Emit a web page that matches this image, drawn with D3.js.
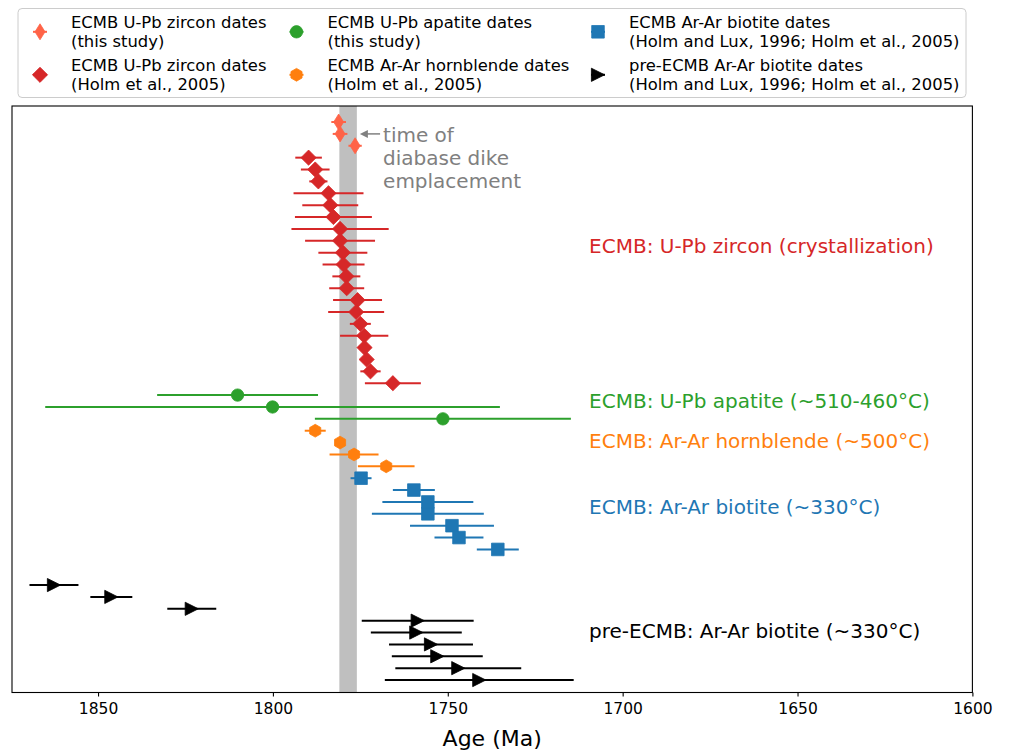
<!DOCTYPE html>
<html>
<head>
<meta charset="utf-8">
<script src="https://cdn.jsdelivr.net/npm/d3@7"></script>
<style>
body { margin: 0; background: #fff; }
text { font-family: "DejaVu Sans", sans-serif; }
</style>
</head>
<body>
<div id="chart"></div>
<script>
// ages (Ma) and half error bars, listed top to bottom
var zirconNewAge = [1781.2, 1780.8, 1776.5];
var zirconNewErr = [2.1, 2.1, 1.9];
var zirconHolmAge = [1789.8, 1787.9, 1787.0, 1784.1, 1783.6, 1782.7, 1780.8, 1780.8, 1780.0, 1779.8,
                     1779.0, 1778.9, 1775.8, 1776.2, 1775.0, 1773.9, 1773.8, 1773.2, 1772.1, 1765.7];
var zirconHolmErr = [3.8, 4.1, 2.6, 10, 8, 11, 13.9, 10, 7, 6,
                     4, 5, 7, 8, 3, 6.9, 1.5, 1.5, 2.9, 8];
var apatiteAge = [1810.1, 1800.1, 1751.4];
var apatiteErr = [23, 65, 36.6];
var hornblendeAge = [1787.9, 1780.8, 1776.8, 1767.6];
var hornblendeErr = [3, 0.8, 7, 8.1];
var biotiteAge = [1774.8, 1759.7, 1755.7, 1755.7, 1748.8, 1746.8, 1735.7];
var biotiteErr = [3, 6, 13, 16, 12, 7, 6];
var preAge = [1862.6, 1846.2, 1823.2, 1758.6, 1759.0, 1754.8, 1753.0, 1747.0, 1741.0];
var preErr = [7, 6, 7, 16, 13, 12, 13, 18, 27];

// empty rows left before each group
var rowGap = [0, 0, 0, 0, 0, 2];

var dikeAge = [1781, 1776];
var xTicks = [1850, 1800, 1750, 1700, 1650, 1600];

var legendText = [
	["ECMB U-Pb zircon dates", "(this study)"],
	["ECMB U-Pb zircon dates", "(Holm et al., 2005)"],
	["ECMB U-Pb apatite dates", "(this study)"],
	["ECMB Ar-Ar hornblende dates", "(Holm et al., 2005)"],
	["ECMB Ar-Ar biotite dates", "(Holm and Lux, 1996; Holm et al., 2005)"],
	["pre-ECMB Ar-Ar biotite dates", "(Holm and Lux, 1996; Holm et al., 2005)"]
];
var groupLabels = [
	"ECMB: U-Pb zircon (crystallization)",
	"ECMB: U-Pb apatite (~510-460°C)",
	"ECMB: Ar-Ar hornblende (~500°C)",
	"ECMB: Ar-Ar biotite (~330°C)",
	"pre-ECMB: Ar-Ar biotite (~330°C)"
];
var annotationLines = ["time of", "diabase dike", "emplacement"];

var series = [
	{ age: zirconNewAge, err: zirconNewErr, color: "#ff6347", shape: "thinDiamond" },
	{ age: zirconHolmAge, err: zirconHolmErr, color: "#d62728", shape: "diamond" },
	{ age: apatiteAge, err: apatiteErr, color: "#2ca02c", shape: "circle" },
	{ age: hornblendeAge, err: hornblendeErr, color: "#ff7f0e", shape: "hexagon" },
	{ age: biotiteAge, err: biotiteErr, color: "#1f77b4", shape: "square" },
	{ age: preAge, err: preErr, color: "#000000", shape: "triangle" }
];

// stack rows
var row = 0;
series.forEach(function(s, i) {
	row += rowGap[i];
	s.points = s.age.map(function(a, j) {
		return { age: a, err: s.err[j], row: row + j };
	});
	row += s.age.length;
});

var width = 1010, height = 752;
var plot = { left: 12, right: 972.4, top: 106, bottom: 692.5 };

var xScale = d3.scaleLinear()
	.domain([1874.6, 1600])
	.range([plot.left, plot.right]);

var yScale = d3.scaleLinear()
	.domain([-1.35, 48.05])
	.range([plot.top, plot.bottom]);

function markerPath(shape) {
	var p = d3.path(), k, a;
	if (shape === "thinDiamond") {
		p.moveTo(0, -8); p.lineTo(5, 0); p.lineTo(0, 8); p.lineTo(-5, 0); p.closePath();
	} else if (shape === "diamond") {
		p.moveTo(0, -7.6); p.lineTo(7.6, 0); p.lineTo(0, 7.6); p.lineTo(-7.6, 0); p.closePath();
	} else if (shape === "circle") {
		p.arc(0, 0, 6.2, 0, 2 * Math.PI);
	} else if (shape === "hexagon") {
		for (k = 0; k < 6; k++) {
			a = Math.PI / 2 + k * Math.PI / 3;
			if (k === 0) p.moveTo(6.4 * Math.cos(a), -6.4 * Math.sin(a));
			else p.lineTo(6.4 * Math.cos(a), -6.4 * Math.sin(a));
		}
		p.closePath();
	} else if (shape === "square") {
		p.rect(-6.3, -6.3, 12.6, 12.6);
	} else if (shape === "triangle") {
		p.moveTo(6.6, 0); p.lineTo(-6.6, -6.6); p.lineTo(-6.6, 6.6); p.closePath();
	}
	return p.toString();
}

var svg = d3.select("#chart").append("svg")
	.attr("width", width)
	.attr("height", height);

// diabase dike band
svg.append("rect")
	.attr("x", xScale(dikeAge[0]))
	.attr("y", plot.top)
	.attr("width", xScale(dikeAge[1]) - xScale(dikeAge[0]))
	.attr("height", plot.bottom - plot.top)
	.attr("fill", "#bfbfbf");

// error bars and markers
series.forEach(function(s) {
	var g = svg.append("g");
	g.selectAll("line")
		.data(s.points)
		.enter().append("line")
		.attr("x1", function(d) { return xScale(d.age + d.err); })
		.attr("x2", function(d) { return xScale(d.age - d.err); })
		.attr("y1", function(d) { return yScale(d.row); })
		.attr("y2", function(d) { return yScale(d.row); })
		.attr("stroke", s.color)
		.attr("stroke-width", 2);
	g.selectAll("path")
		.data(s.points)
		.enter().append("path")
		.attr("d", markerPath(s.shape))
		.attr("transform", function(d) { return "translate(" + xScale(d.age) + "," + yScale(d.row) + ")"; })
		.attr("fill", s.color)
		.attr("stroke", s.color)
		.attr("stroke-width", 0.8);
});

// frame
svg.append("rect")
	.attr("x", plot.left)
	.attr("y", plot.top)
	.attr("width", plot.right - plot.left)
	.attr("height", plot.bottom - plot.top)
	.attr("fill", "none")
	.attr("stroke", "#000")
	.attr("stroke-width", 1.1);

// x axis
var xAxis = d3.axisBottom(xScale)
	.tickValues(xTicks)
	.tickFormat(d3.format("d"))
	.tickSize(4)
	.tickSizeOuter(0)
	.tickPadding(6);

var axisG = svg.append("g")
	.attr("transform", "translate(0," + plot.bottom + ")")
	.call(xAxis);
axisG.select(".domain").remove();
axisG.selectAll(".tick line").attr("stroke", "#000").attr("stroke-width", 1.1);
axisG.selectAll(".tick text")
	.attr("fill", "#000")
	.style("font-size", "15.5px")
	.style("font-family", "DejaVu Sans");

svg.append("text")
	.attr("x", (plot.left + plot.right) / 2)
	.attr("y", 746)
	.attr("text-anchor", "middle")
	.style("font-size", "22px")
	.text("Age (Ma)");

// group labels on the right
var labelAge = 1709.6;
var labelRows = [10.4, 23.5, 26.9, 32.4, 42.9];
var labelColors = ["#d62728", "#2ca02c", "#ff7f0e", "#1f77b4", "#000000"];
svg.selectAll(".group-label")
	.data(groupLabels)
	.enter().append("text")
	.attr("class", "group-label")
	.attr("x", xScale(labelAge))
	.attr("y", function(d, i) { return yScale(labelRows[i]) + 7; })
	.attr("fill", function(d, i) { return labelColors[i]; })
	.style("font-size", "20px")
	.text(function(d) { return d; });

// annotation for the dike band
var noteX = xScale(1768.5);
svg.selectAll(".note")
	.data(annotationLines)
	.enter().append("text")
	.attr("class", "note")
	.attr("x", noteX)
	.attr("y", function(d, i) { return 141.7 + i * 23; })
	.attr("fill", "#808080")
	.style("font-size", "20px")
	.text(function(d) { return d; });

var arrowY = yScale(1);
svg.append("line")
	.attr("x1", noteX - 3)
	.attr("x2", xScale(1776) + 8)
	.attr("y1", arrowY)
	.attr("y2", arrowY)
	.attr("stroke", "#808080")
	.attr("stroke-width", 1.5);
svg.append("path")
	.attr("d", "M" + (xScale(1776) + 3) + "," + arrowY + "l8,-4l0,8z")
	.attr("fill", "#808080");

// legend
var legend = svg.append("g");
legend.append("rect")
	.attr("x", 18)
	.attr("y", 8.5)
	.attr("width", 948)
	.attr("height", 89)
	.attr("rx", 4)
	.attr("fill", "#fff")
	.attr("stroke", "#cccccc")
	.attr("stroke-width", 1);

var colMarkerX = [40, 296.5, 598];
var rowMarkerY = [31.8, 74.8];
series.forEach(function(s, i) {
	var col = Math.floor(i / 2), r = i % 2;
	var mx = colMarkerX[col], my = rowMarkerY[r];
	legend.append("line")
		.attr("x1", mx - 7).attr("x2", mx + 7)
		.attr("y1", my).attr("y2", my)
		.attr("stroke", s.color)
		.attr("stroke-width", 2);
	legend.append("path")
		.attr("d", markerPath(s.shape))
		.attr("transform", "translate(" + mx + "," + my + ")")
		.attr("fill", s.color)
		.attr("stroke", s.color)
		.attr("stroke-width", 0.8);
	legendText[i].forEach(function(t, k) {
		legend.append("text")
			.attr("x", mx + 31)
			.attr("y", my - 4 + k * 19)
			.attr("fill", "#000")
			.style("font-size", "16.4px")
			.text(t);
	});
});
</script>
</body>
</html>
